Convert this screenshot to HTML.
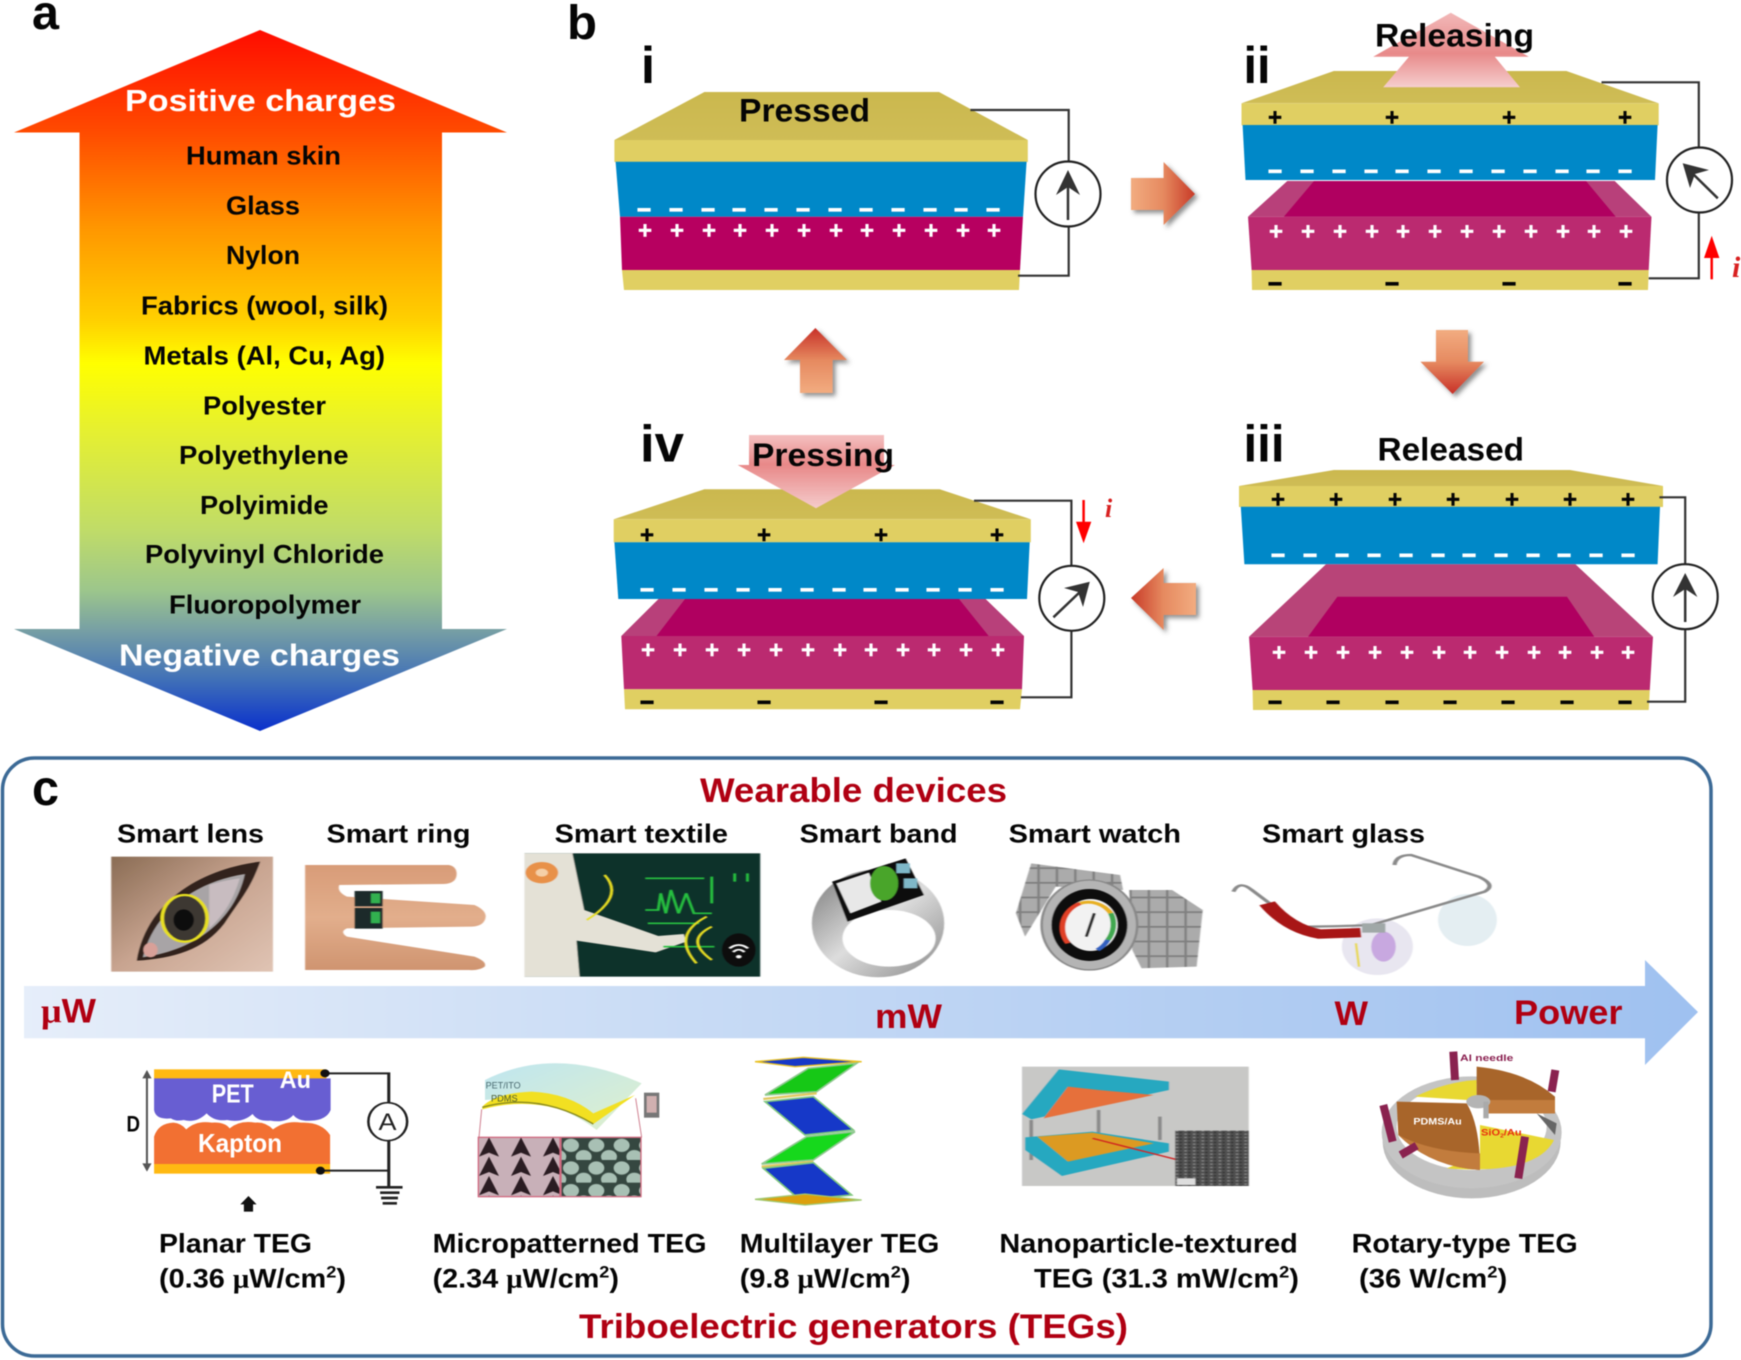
<!DOCTYPE html>
<html><head><meta charset="utf-8"><style>
html,body{margin:0;padding:0;background:#fff}
svg{display:block;filter:blur(.45px)}
text{font-family:"Liberation Sans",sans-serif;font-weight:700}
.k{fill:#050505}.w{fill:#fff}.r{fill:#b00012}
.pw{fill:#fff;font-size:24px;text-anchor:middle;stroke:#fff;stroke-width:.5}
.pk{fill:#050505;font-size:24px;text-anchor:middle;stroke:#050505;stroke-width:.5}
.dw{fill:#fff;font-size:24px;text-anchor:middle;stroke:#fff;stroke-width:1.3}
.dk{fill:#050505;font-size:24px;text-anchor:middle;stroke:#050505;stroke-width:1.3}
</style></head><body>
<svg width="1741" height="1360" viewBox="0 0 1741 1360" xmlns="http://www.w3.org/2000/svg">
<defs>
<linearGradient id="ga" gradientUnits="userSpaceOnUse" x1="0" y1="30" x2="0" y2="731">
<stop offset="0" stop-color="#ff0c00"/><stop offset=".143" stop-color="#ff4a00"/><stop offset=".285" stop-color="#ff9800"/><stop offset=".414" stop-color="#ffd000"/><stop offset=".476" stop-color="#ffff00"/><stop offset=".57" stop-color="#e6f030"/><stop offset=".713" stop-color="#c0dc68"/><stop offset=".8" stop-color="#9cc68c"/><stop offset=".855" stop-color="#78a0a4"/><stop offset=".927" stop-color="#4070b8"/><stop offset="1" stop-color="#0a30cc"/></linearGradient>
<linearGradient id="gr" x1="0" x2="1" y1="0" y2="0"><stop offset="0" stop-color="#f2ac80"/><stop offset=".5" stop-color="#e68a60"/><stop offset="1" stop-color="#c83a28"/></linearGradient>
<linearGradient id="gl" x1="1" x2="0" y1="0" y2="0"><stop offset="0" stop-color="#f2ac80"/><stop offset=".5" stop-color="#e68a60"/><stop offset="1" stop-color="#c83a28"/></linearGradient>
<linearGradient id="gd" x1="0" x2="0" y1="0" y2="1"><stop offset="0" stop-color="#f2ac80"/><stop offset=".5" stop-color="#e68a60"/><stop offset="1" stop-color="#c83028"/></linearGradient>
<linearGradient id="gu" x1="0" x2="0" y1="1" y2="0"><stop offset="0" stop-color="#f2ac80"/><stop offset=".5" stop-color="#e68a60"/><stop offset="1" stop-color="#c83028"/></linearGradient>
<linearGradient id="gp1" x1="0" x2="0" y1="0" y2="1"><stop offset="0" stop-color="#f2b8b8"/><stop offset=".55" stop-color="#e88a8a"/><stop offset="1" stop-color="#f6cfcf"/></linearGradient>
<linearGradient id="gp2" x1="0" x2="0" y1="0" y2="1"><stop offset="0" stop-color="#f4c0c0"/><stop offset=".4" stop-color="#e88888"/><stop offset="1" stop-color="#f5cccc"/></linearGradient>
<linearGradient id="gb" x1="0" x2="1" y1="0" y2="0"><stop offset="0" stop-color="#e6eefa"/><stop offset=".4" stop-color="#c8dbf5"/><stop offset="1" stop-color="#9fc1f0"/></linearGradient>
<linearGradient id="gy" x1="0" x2="0" y1="0" y2="1"><stop offset="0" stop-color="#cbb84e"/><stop offset="1" stop-color="#cfbd56"/></linearGradient>
<linearGradient id="gskin" x1="0" x2="1" y1="0" y2="1"><stop offset="0" stop-color="#8a6c54"/><stop offset=".5" stop-color="#c8a490"/><stop offset="1" stop-color="#e0c4b4"/></linearGradient>
<linearGradient id="gband" x1="0" x2="1" y1="0" y2="1"><stop offset="0" stop-color="#777"/><stop offset=".5" stop-color="#ddd"/><stop offset="1" stop-color="#888"/></linearGradient>
<linearGradient id="gsheet" x1="0" x2="1" y1="0" y2="1"><stop offset="0" stop-color="#bfe6f0"/><stop offset="1" stop-color="#dff0cc"/></linearGradient>
<linearGradient id="ghand" x1="0" x2="0" y1="0" y2="1"><stop offset="0" stop-color="#d89c78"/><stop offset=".5" stop-color="#e2ae8c"/><stop offset="1" stop-color="#cf9470"/></linearGradient>
<filter id="sh" x="-30%" y="-30%" width="170%" height="170%"><feDropShadow dx="3" dy="3" stdDeviation="2.5" flood-color="#444" flood-opacity=".6"/></filter>
<filter id="bl" x="-5%" y="-5%" width="110%" height="110%"><feGaussianBlur stdDeviation="1"/></filter>
<pattern id="ptri" patternUnits="userSpaceOnUse" width="96" height="58" x="40" y="262"><rect width="96" height="58" fill="#c8b0b8"/><polygon points="32,0 62,58 32,46 2,58" fill="#2a1a20"/></pattern>
<pattern id="pblob" patternUnits="userSpaceOnUse" width="76" height="68" x="288" y="262"><rect width="76" height="68" fill="#34463f"/><ellipse cx="30" cy="24" rx="24" ry="20" fill="#a8c0b4"/><ellipse cx="68" cy="58" rx="24" ry="20" fill="#a8c0b4"/><ellipse cx="-8" cy="58" rx="24" ry="20" fill="#a8c0b4"/></pattern>
<pattern id="pnoise" patternUnits="userSpaceOnUse" width="14" height="10"><rect width="14" height="10" fill="#505050"/><rect x="2" y="1" width="4" height="3" fill="#999"/><rect x="8" y="6" width="4" height="3" fill="#2a2a2a"/></pattern>
<pattern id="pstrap" patternUnits="userSpaceOnUse" width="30" height="44"><rect width="30" height="44" fill="#ababab"/><rect width="30" height="5" fill="#7c7c7c"/><rect width="4" height="44" fill="#808080"/></pattern>
</defs>
<rect width="1741" height="1360" fill="#fff"/>

<!-- panel a -->
<polygon points="260,30 507,132.5 442,132.5 442,629 507,629 260,731 14,629 79.5,629 79.5,132.5 14,132.5" fill="url(#ga)"/>
<text class="k" x="32" y="29" font-size="48" textLength="27" lengthAdjust="spacingAndGlyphs">a</text>
<text class="w" x="125" y="111" font-size="31" textLength="271" lengthAdjust="spacingAndGlyphs">Positive charges</text>
<g font-size="26" class="k">
<text x="186" y="164.500" textLength="155" lengthAdjust="spacingAndGlyphs">Human skin</text>
<text x="226" y="214.500" textLength="74" lengthAdjust="spacingAndGlyphs">Glass</text>
<text x="226" y="264" textLength="74" lengthAdjust="spacingAndGlyphs">Nylon</text>
<text x="141" y="314.500" textLength="247" lengthAdjust="spacingAndGlyphs">Fabrics (wool, silk)</text>
<text x="143.500" y="364.500" textLength="241.500" lengthAdjust="spacingAndGlyphs">Metals (Al, Cu, Ag)</text>
<text x="203" y="414.500" textLength="123" lengthAdjust="spacingAndGlyphs">Polyester</text>
<text x="179" y="464" textLength="169.500" lengthAdjust="spacingAndGlyphs">Polyethylene</text>
<text x="200" y="514" textLength="128.500" lengthAdjust="spacingAndGlyphs">Polyimide</text>
<text x="145" y="563" textLength="239" lengthAdjust="spacingAndGlyphs">Polyvinyl Chloride</text>
<text x="169" y="613.500" textLength="192" lengthAdjust="spacingAndGlyphs">Fluoropolymer</text>
</g>
<text class="w" x="119" y="665.500" font-size="31" textLength="281" lengthAdjust="spacingAndGlyphs">Negative charges</text>

<!-- panel b -->
<text class="k" x="567" y="39" font-size="48" textLength="30" lengthAdjust="spacingAndGlyphs">b</text>

<!-- i -->
<polygon points="704.400,92 939,92 1027.800,140 614.400,140" fill="url(#gy)"/>
<rect x="614.400" y="140" width="413.400" height="22" fill="#e0cf62"/>
<polygon points="615.600,161.700 1026.600,161.700 1023,216.700 620,216.700" fill="#0088c8"/>
<polygon points="620,216.700 1023,216.700 1020,270 622,270" fill="#b70060"/>
<polygon points="622,270 1020,270 1019,290 624,290" fill="#e0cf62"/>
<path d="M970.400 110H1068.700V161M1068.700 227V275.700H1018" fill="none" stroke="#333" stroke-width="2.200"/>
<circle cx="1068" cy="194" r="32.500" fill="#fff" stroke="#222" stroke-width="2.200"/>
<path d="M1068 220V180" stroke="#333" stroke-width="2.500"/>
<polygon points="1068,170 1056,195 1068,187 1080,195" fill="#333"/>
<text class="k" x="739" y="121.700" font-size="32" textLength="131" lengthAdjust="spacingAndGlyphs">Pressed</text>
<text class="k" x="641" y="83" font-size="52" textLength="14" lengthAdjust="spacingAndGlyphs">i</text>
<text class="dw" y="216.500" x="644 676 708 739 771 803 835 866 898 930 961 993">––––––––––––</text>
<text class="pw" y="238.700" x="645 677 709 740 772 804 836 867 899 931 963 994">++++++++++++</text>

<!-- arrows -->
<polygon points="1131,178 1163.600,178 1163.600,162 1195,194 1163.600,225 1163.600,210 1131,210" fill="url(#gr)" filter="url(#sh)"/>
<polygon points="1436,330 1468,330 1468,361.700 1484,361.700 1452.600,394 1420.400,361.700 1436,361.700" fill="url(#gd)" filter="url(#sh)"/>
<polygon points="1196,583 1163.600,583 1163.600,568 1131,598 1163.600,630 1163.600,615 1196,615" fill="url(#gl)" filter="url(#sh)"/>
<polygon points="815.400,328 847,360 832.600,360 832.600,393 800,393 800,360 784,360" fill="url(#gu)" filter="url(#sh)"/>

<!-- ii -->
<polygon points="1333.800,71 1566.400,71 1658.700,103.300 1241.500,103.300" fill="url(#gy)"/>
<rect x="1241.500" y="103.300" width="417.200" height="22" fill="#e0cf62"/>
<polygon points="1242.600,125 1657.600,125 1655,180 1245.500,180" fill="#0088c8"/>
<polygon points="1287.300,181 1614.700,181 1651.500,216.700 1248,216.700" fill="#b8407a"/>
<polygon points="1314,181 1586,181 1615.800,216.700 1283.800,216.700" fill="#b00060"/>
<polygon points="1248,216.700 1651.500,216.700 1648.700,270 1251.600,270" fill="#bb2a70"/>
<polygon points="1251.600,270 1648.700,270 1648,290 1252,290" fill="#e0cf62"/>
<polygon points="1450.800,12.700 1528.800,56.700 1494.800,56.700 1520,87.300 1383.200,87.300 1409,56.700 1373.200,56.700" fill="url(#gp1)"/>
<path d="M1601.500 82.300H1698.800V148M1698.800 212V278.300H1648.700" fill="none" stroke="#333" stroke-width="2.200"/>
<circle cx="1699.500" cy="180" r="32.500" fill="#fff" stroke="#222" stroke-width="2.200"/>
<path d="M1717.800 198.300L1690 171" stroke="#333" stroke-width="2.500"/>
<polygon points="1682.700,163.300 1709,170 1695,174 1690,188" fill="#333"/>
<path d="M1711.700 279.300V256" stroke="#f00" stroke-width="2.500"/><polygon points="1711.700,235.700 1719.400,258 1704,258" fill="#f00"/>
<text x="1732" y="277" font-size="30" fill="#d82020" style="font-family:'Liberation Serif',serif;font-style:italic">i</text>
<text class="k" x="1375" y="46.700" font-size="32" textLength="159" lengthAdjust="spacingAndGlyphs">Releasing</text>
<text class="k" x="1243.500" y="83" font-size="52" textLength="27" lengthAdjust="spacingAndGlyphs">ii</text>
<text class="pk" y="125.500" x="1275 1392 1509 1625">++++</text>
<text class="dw" y="178" x="1275 1307 1339 1371 1402 1434 1466 1498 1530 1562 1593 1625">––––––––––––</text>
<text class="pw" y="239.700" x="1276 1308 1340 1372 1403 1435 1467 1499 1531 1563 1594 1626">++++++++++++</text>
<text class="dk" y="290.500" x="1275 1392 1509 1625">––––</text>

<!-- iii -->
<polygon points="1333.800,470 1570,470 1663,486 1239,486" fill="url(#gy)"/>
<rect x="1239" y="486" width="424" height="21" fill="#e0cf62"/>
<polygon points="1240.800,506.700 1660,506.700 1657.600,564.300 1244.400,564.300" fill="#0088c8"/>
<polygon points="1326,564.300 1575.400,564.300 1653,636.700 1249,636.700" fill="#b84478"/>
<polygon points="1337.400,596.700 1567,596.700 1594.300,636.700 1308,636.700" fill="#b00060"/>
<polygon points="1249,636.700 1653,636.700 1649.800,690 1252.600,690" fill="#bb2a70"/>
<polygon points="1252.600,690 1649.800,690 1648.700,710 1253,710" fill="#e0cf62"/>
<path d="M1659.400 497.300H1685.200V564M1685.200 629V701.700H1647" fill="none" stroke="#333" stroke-width="2.200"/>
<circle cx="1685.200" cy="596.700" r="32.500" fill="#fff" stroke="#222" stroke-width="2.200"/>
<path d="M1685.200 622V585" stroke="#333" stroke-width="2.500"/>
<polygon points="1685.200,573 1673,597 1685.200,589 1697.400,597" fill="#333"/>
<text class="k" x="1377.500" y="460.700" font-size="32" textLength="146.500" lengthAdjust="spacingAndGlyphs">Released</text>
<text class="k" x="1243.500" y="461.700" font-size="52" textLength="41" lengthAdjust="spacingAndGlyphs">iii</text>
<text class="pk" y="507.300" x="1278 1336 1395 1453 1512 1570 1628">+++++++</text>
<text class="dw" y="562" x="1278 1310 1342 1374 1406 1438 1469 1501 1533 1564 1596 1628">––––––––––––</text>
<text class="pw" y="660.700" x="1279 1311 1343 1375 1407 1439 1470 1502 1534 1565 1597 1628">++++++++++++</text>
<text class="dk" y="709" x="1275 1333 1392 1450 1508 1567 1625">–––––––</text>

<!-- iv -->
<polygon points="704.400,489.300 939.700,489.300 1030.800,519.300 613.700,519.300" fill="url(#gy)"/>
<rect x="613.700" y="519.300" width="417.100" height="23" fill="#e0cf62"/>
<polygon points="614.400,542.300 1029.700,542.300 1027,599 618.300,599" fill="#0088c8"/>
<polygon points="658.500,599 985.600,599 1024,636 621.300,636" fill="#b8407a"/>
<polygon points="685,599 959,599 988.700,636 656.500,636" fill="#b00060"/>
<polygon points="621.300,636 1024,636 1022,689.300 624,689.300" fill="#bb2a70"/>
<polygon points="624,689.300 1022,689.300 1020,709.300 625,709.300" fill="#e0cf62"/>
<polygon points="749,435 884,435 884,465 895,465 816,508.300 737.700,465 749,465" fill="url(#gp2)"/>
<path d="M974 500.700H1071.400V566M1071.400 631V697.300H1020.900" fill="none" stroke="#333" stroke-width="2.200"/>
<circle cx="1071.800" cy="598.300" r="32.500" fill="#fff" stroke="#222" stroke-width="2.200"/>
<path d="M1053.400 617.300L1082 590" stroke="#333" stroke-width="2.500"/>
<polygon points="1089.800,581.700 1083,607 1078,592 1064,588" fill="#333"/>
<path d="M1083.600 500V524" stroke="#f00" stroke-width="2.500"/><polygon points="1083.600,543.300 1091.300,521.700 1076,521.700" fill="#f00"/>
<text x="1105" y="517" font-size="26" fill="#d82020" style="font-family:'Liberation Serif',serif;font-style:italic">i</text>
<text class="k" x="752" y="466" font-size="32" textLength="142" lengthAdjust="spacingAndGlyphs">Pressing</text>
<text class="k" x="640" y="461.700" font-size="52" textLength="44" lengthAdjust="spacingAndGlyphs">iv</text>
<text class="pk" y="543" x="647 764 881 997">++++</text>
<text class="dw" y="596.500" x="647 679 711 743 775 807 839 870 902 933 965 997">––––––––––––</text>
<text class="pw" y="658" x="648 680 712 744 776 808 840 871 903 934 966 998">++++++++++++</text>
<text class="dk" y="709" x="647 764 881 997">––––</text>

<!-- panel c -->
<rect x="2.500" y="758" width="1708.500" height="598" rx="32" ry="32" fill="#fff" stroke="#3c6a96" stroke-width="3.500"/>
<text class="k" x="32" y="805" font-size="50" textLength="27" lengthAdjust="spacingAndGlyphs">c</text>
<text class="r" x="700" y="802" font-size="34" textLength="307" lengthAdjust="spacingAndGlyphs">Wearable devices</text>
<g class="k" font-size="26">
<text x="117" y="842.700" textLength="147" lengthAdjust="spacingAndGlyphs">Smart lens</text>
<text x="326.500" y="842.700" textLength="144" lengthAdjust="spacingAndGlyphs">Smart ring</text>
<text x="554.600" y="842.700" textLength="173.400" lengthAdjust="spacingAndGlyphs">Smart textile</text>
<text x="799.600" y="842.700" textLength="158" lengthAdjust="spacingAndGlyphs">Smart band</text>
<text x="1008.600" y="842.700" textLength="172.400" lengthAdjust="spacingAndGlyphs">Smart watch</text>
<text x="1262" y="842.700" textLength="163" lengthAdjust="spacingAndGlyphs">Smart glass</text>
</g>

<!-- power arrow -->
<polygon points="24,986 1645,986 1645,960 1698,1012 1645,1065 1645,1038.300 24,1038.300" fill="url(#gb)"/>
<text class="r" x="41" y="1022.700" font-size="34" textLength="55" lengthAdjust="spacingAndGlyphs"><tspan style="font-family:'Liberation Serif',serif">μ</tspan>W</text>
<text class="r" x="875" y="1028" font-size="34" textLength="67" lengthAdjust="spacingAndGlyphs">mW</text>
<text class="r" x="1334.500" y="1025" font-size="34" textLength="33.500" lengthAdjust="spacingAndGlyphs">W</text>
<text class="r" x="1514" y="1024" font-size="34" textLength="108.500" lengthAdjust="spacingAndGlyphs">Power</text>

<!-- device pictures, zoom-6 coordinates -->
<g transform="translate(0,750) scale(.5102,.3333)" filter="url(#bl)">
  <rect x="218" y="320" width="317" height="345" fill="url(#gskin)"/>
  <path d="M268 632C285 470 380 360 510 335C490 420 470 450 440 520C400 600 340 625 268 632Z" fill="#33241c"/>
  <path d="M280 622C300 490 380 395 480 372C465 480 405 595 280 622Z" fill="#a8a4a6"/>
  <path d="M410 405C440 390 470 385 470 385C455 460 435 500 410 535Z" fill="#c8bcc0"/>
  <ellipse cx="362" cy="505" rx="42" ry="68" fill="#3c3733"/>
  <ellipse cx="360" cy="510" rx="20" ry="32" fill="#111"/>
  <ellipse cx="362" cy="505" rx="44" ry="70" fill="none" stroke="#e8e020" stroke-width="7"/>
  <ellipse cx="295" cy="600" rx="14" ry="22" fill="#d8a098"/>
  <!-- ring hand -->
  <path d="M598 345H880Q895 350 895 372Q895 400 870 402L665 405Q660 425 680 440L930 465Q952 480 952 500Q950 528 925 530L680 535Q665 545 680 560L930 620Q955 635 950 650Q940 662 920 660H598Z" fill="url(#ghand)"/>
  <rect x="695" y="423" width="55" height="46" fill="#1a2a2a"/><rect x="695" y="474" width="55" height="62" fill="#1a2a2a"/>
  <rect x="727" y="430" width="18" height="30" fill="#30b050"/><rect x="727" y="485" width="18" height="35" fill="#30b050"/>
  <!-- textile -->
  <rect x="1028" y="310" width="462" height="370" fill="#11302c"/>
  <polygon points="1028,310 1122,310 1145,480 1290,558 1340,552 1345,575 1285,607 1130,572 1136,680 1028,680" fill="#e4e1d6"/>
  <circle cx="1062" cy="368" r="32" fill="#e8914a"/><circle cx="1062" cy="368" r="12" fill="#f5d0a8"/>
  <path d="M1265 480H1290L1295 430L1305 490L1315 420L1330 490L1345 430L1360 490H1395M1440 370V395M1465 370V395M1395 380V460M1265 385H1380M1270 520H1370M1300 590H1400" fill="none" stroke="#25c040" stroke-width="5"/>
  <path d="M1185 375Q1225 440 1150 510M1385 500Q1315 555 1365 640M1395 530Q1340 570 1395 630" fill="none" stroke="#e6e020" stroke-width="5"/>
  <ellipse cx="1448" cy="600" rx="33" ry="50" fill="#0a0a0a"/>
  <path d="M1430 595Q1448 575 1466 595M1437 606Q1448 592 1459 606" fill="none" stroke="#fff" stroke-width="5"/><circle cx="1448" cy="620" r="5" fill="#fff"/>
</g>

<!-- zoom-7 coordinates -->
<g transform="translate(780,750) scale(.6127,.3333)" filter="url(#bl)">
  <ellipse cx="160" cy="520" rx="108" ry="162" fill="url(#gband)"/>
  <ellipse cx="178" cy="565" rx="76" ry="85" fill="#fff"/>
  <polygon points="85,395 205,325 235,435 110,515" fill="#111"/>
  <polygon points="92,400 145,368 165,455 115,490" fill="#e8e8e8"/>
  <ellipse cx="170" cy="400" rx="23" ry="52" fill="#4aa52c"/>
  <rect x="190" y="340" width="22" height="30" fill="#7fb8c8"/><rect x="202" y="385" width="22" height="30" fill="#7fb8c8"/>
  <!-- watch -->
  <polygon points="385,490 410,340 555,375 560,420 450,410 400,560" fill="url(#pstrap)"/>
  <polygon points="570,420 640,420 690,480 680,650 590,655 575,600" fill="url(#pstrap)"/>
  <ellipse cx="505" cy="525" rx="78" ry="135" fill="#b4b4b4" stroke="#888" stroke-width="4"/>
  <ellipse cx="505" cy="525" rx="62" ry="108" fill="#0c0c0c"/>
  <ellipse cx="507" cy="525" rx="44" ry="78" fill="#f2f2f2"/>
  <path d="M470 580A45 78 0 0 1 490 460" fill="none" stroke="#e04028" stroke-width="9"/>
  <path d="M490 460A45 78 0 0 1 540 490" fill="none" stroke="#e8b020" stroke-width="9"/>
  <path d="M540 490A45 78 0 0 1 535 570" fill="none" stroke="#40a850" stroke-width="9"/>
  <path d="M535 570A45 78 0 0 1 518 600" fill="none" stroke="#3060c0" stroke-width="9"/>
  <path d="M500 560L513 490" stroke="#222" stroke-width="5"/>
  <!-- glass -->
  <ellipse cx="975" cy="590" rx="58" ry="85" fill="#e8e6f0"/>
  <ellipse cx="985" cy="590" rx="20" ry="45" fill="#c8a8e0"/>
  <path d="M940 580L945 650" stroke="#e8d850" stroke-width="4"/>
  <ellipse cx="1122" cy="510" rx="48" ry="78" fill="#e4eef2"/>
  <path d="M740 425Q750 390 770 420L850 530Q900 530 965 525L1150 425Q1170 405 1140 380L1030 315Q1005 315 1003 345" fill="none" stroke="#8a8a8a" stroke-width="7"/>
  <path d="M795 460Q830 535 880 552L948 548" fill="none" stroke="#a81818" stroke-width="28"/>
  <rect x="950" y="520" width="38" height="28" fill="#a0a8a8"/>
</g>

<!-- planar TEG, zoom-8 coords -->
<g transform="translate(0,1040) scale(.5102,.3333)">
  <rect x="302" y="88" width="338" height="28" fill="#ffb912"/>
  <rect x="302" y="370" width="345" height="31" fill="#ffb912"/>
  <path d="M302 115H648V210Q640 240 610 242Q585 245 575 225Q560 250 530 242Q505 245 495 222Q475 250 445 240Q420 245 405 220Q385 250 360 240Q345 245 335 235Q305 240 302 210Z" fill="#685ed2"/>
  <path d="M302 290Q310 250 340 248Q355 250 365 268Q385 240 415 248Q440 245 450 265Q470 240 500 248Q520 245 535 268Q560 240 590 248Q630 245 647 285V372H302Z" fill="#f27032"/>
  <path d="M288 95V390" stroke="#555" stroke-width="4"/>
  <polygon points="288,90 279,115 297,115" fill="#555"/><polygon points="288,395 279,370 297,370" fill="#555"/>
  <path d="M637 100H762V190M762 300V440M628 392H762" fill="none" stroke="#222" stroke-width="6"/>
  <ellipse cx="637" cy="100" rx="9" ry="12" fill="#111"/><ellipse cx="628" cy="392" rx="9" ry="12" fill="#111"/>
  <ellipse cx="760" cy="245" rx="38" ry="57" fill="#fff" stroke="#222" stroke-width="5"/>
  <path d="M737 442H789M745 458H783M747 474H780M750 490H778" stroke="#222" stroke-width="8"/>
  <polygon points="487,468 503,493 496,493 496,515 478,515 478,493 471,493" fill="#111"/>
</g>
<text class="k" x="126.500" y="1131.700" font-size="22" textLength="13.500" lengthAdjust="spacingAndGlyphs">D</text>
<text class="w" x="211.700" y="1102.300" font-size="26" textLength="42" lengthAdjust="spacingAndGlyphs">PET</text>
<text class="w" x="279.600" y="1088" font-size="24" textLength="31.400" lengthAdjust="spacingAndGlyphs">Au</text>
<text class="w" x="198" y="1152" font-size="26" textLength="84" lengthAdjust="spacingAndGlyphs">Kapton</text>
<text x="378.500" y="1130" font-size="24" textLength="18" lengthAdjust="spacingAndGlyphs" fill="#222" style="font-weight:400">A</text>

<!-- micropatterned -->
<g transform="translate(465,1050) scale(.3333)">
  <g filter="url(#bl)">
  <path d="M60 90Q270 -15 530 100L395 240Q250 130 60 150Z" fill="url(#gsheet)"/>
  <path d="M52 170Q90 130 200 125Q310 130 385 190L510 135L385 222Q230 130 52 178Z" fill="#f2e020"/>
  <path d="M52 172Q220 125 385 222" fill="none" stroke="#8a8a20" stroke-width="4"/>
  <path d="M50 178L42 262M512 145L530 262" stroke="#d08090" stroke-width="3"/>
  <rect x="40" y="262" width="245" height="178" fill="url(#ptri)" stroke="#d06a80" stroke-width="4"/>
  <rect x="288" y="262" width="240" height="178" fill="url(#pblob)" stroke="#d06a80" stroke-width="4"/>
  <rect x="537" y="128" width="46" height="75" fill="#777"/><rect x="545" y="138" width="30" height="50" fill="#d0b0b0"/>
  </g>
  <text x="62" y="115" font-size="28" fill="#4a6a70" textLength="105" lengthAdjust="spacingAndGlyphs" style="font-weight:400">PET/ITO</text>
  <text x="78" y="155" font-size="28" fill="#4a5a30" textLength="80" lengthAdjust="spacingAndGlyphs" style="font-weight:400">PDMS</text>
</g>

<!-- multilayer -->
<g transform="translate(745,1050) scale(.3333)" filter="url(#bl)">
  <polygon points="30,35 175,22 350,35 150,50" fill="#1438c8" stroke="#e8c020" stroke-width="4"/>
  <polygon points="190,55 335,40 215,125 60,135" fill="#12c818" stroke="#90c890" stroke-width="5"/>
  <path d="M55 147L215 130" stroke="#e0c860" stroke-width="7"/>
  <polygon points="60,155 205,140 325,240 180,255" fill="#1438c8" stroke="#80c880" stroke-width="5"/>
  <polygon points="185,260 330,245 205,330 50,342" fill="#12d81c" stroke="#90c890" stroke-width="5"/>
  <path d="M50 350L205 335" stroke="#e0c860" stroke-width="7"/>
  <polygon points="55,355 205,338 320,435 165,450" fill="#1438c8" stroke="#80c880" stroke-width="5"/>
  <polygon points="30,448 180,432 350,450 180,465" fill="#dca010" stroke="#a0c870" stroke-width="4"/>
</g>

<!-- nanoparticle, zoom-9 coords -->
<g transform="translate(780,1040) scale(.6127,.3333)" filter="url(#bl)">
  <rect x="395" y="80" width="370" height="358" fill="#c8c8c6"/>
  <path d="M410 240V360M520 210V320M620 230V300" stroke="#8a8a8a" stroke-width="6"/>
  <polygon points="455,88 635,125 635,150 410,238 395,222" fill="#26a8c0"/>
  <polygon points="430,235 610,165 520,150 470,140" fill="#e6703a"/>
  <polygon points="400,292 510,275 635,310 635,335 460,408 400,330" fill="#26a8c0"/>
  <polygon points="420,290 510,278 610,310 470,365" fill="#dc9a20"/>
  <path d="M510 295L650 360" stroke="#d02020" stroke-width="4"/>
  <rect x="645" y="272" width="120" height="166" fill="url(#pnoise)"/>
  <rect x="648" y="415" width="30" height="20" fill="#ddd"/>
</g>

<!-- rotary -->
<g transform="translate(1370,1045) scale(.3333)">
  <g filter="url(#bl)">
  <ellipse cx="305" cy="290" rx="267" ry="170" fill="#bdbdbd"/>
  <ellipse cx="305" cy="262" rx="270" ry="168" fill="#c4c4c4"/>
  <ellipse cx="305" cy="245" rx="225" ry="130" fill="#fff"/>
  <path d="M135 155Q230 110 320 105V155L290 165Z" fill="#e8d830"/>
  <path d="M330 240L552 285Q500 390 230 370L330 330Z" fill="#e8d830"/>
  <path d="M500 205L560 235L555 270Z" fill="#666"/>
  <path d="M320 65Q470 80 555 155V205L355 205V165L320 150Z" fill="#a8652a"/>
  <path d="M355 165H555V205H355Z" fill="#c27c3c"/>
  <path d="M80 170L290 175Q330 240 330 375Q180 365 85 270Z" fill="#a8652a"/>
  <path d="M85 270Q180 320 330 325V375Q180 365 85 270Z" fill="#c27c3c"/>
  <ellipse cx="325" cy="170" rx="36" ry="20" fill="#b4b4b4"/>
  <rect x="340" y="170" width="16" height="50" fill="#aaa"/>
  <path d="M250 20L255 105M556 75L545 140M40 180L68 290M92 330L140 302M465 275L445 400" fill="none" stroke="#8a2050" stroke-width="24"/>
  </g>
  <text x="270" y="48" font-size="27" fill="#8a2050" textLength="160" lengthAdjust="spacingAndGlyphs">Al needle</text>
  <text x="130" y="238" font-size="27" fill="#fff" textLength="145" lengthAdjust="spacingAndGlyphs">PDMS/Au</text>
  <text x="333" y="272" font-size="27" fill="#e83010" textLength="122" lengthAdjust="spacingAndGlyphs">SiO<tspan font-size="16" dy="5">2</tspan><tspan dy="-5">/Au</tspan></text>
</g>

<!-- TEG labels -->
<g class="k" font-size="27">
<text x="159" y="1252.700" textLength="153" lengthAdjust="spacingAndGlyphs">Planar TEG</text>
<text x="159" y="1287.700" textLength="187" lengthAdjust="spacingAndGlyphs">(0.36 <tspan style="font-family:'Liberation Serif',serif">μ</tspan>W/cm<tspan font-size="17" dy="-10">2</tspan><tspan dy="10">)</tspan></text>
<text x="432.600" y="1252.700" textLength="274" lengthAdjust="spacingAndGlyphs">Micropatterned TEG</text>
<text x="432.600" y="1287.700" textLength="186.400" lengthAdjust="spacingAndGlyphs">(2.34 <tspan style="font-family:'Liberation Serif',serif">μ</tspan>W/cm<tspan font-size="17" dy="-10">2</tspan><tspan dy="10">)</tspan></text>
<text x="739.800" y="1252.700" textLength="199.500" lengthAdjust="spacingAndGlyphs">Multilayer TEG</text>
<text x="739.800" y="1287.700" textLength="170.700" lengthAdjust="spacingAndGlyphs">(9.8 <tspan style="font-family:'Liberation Serif',serif">μ</tspan>W/cm<tspan font-size="17" dy="-10">2</tspan><tspan dy="10">)</tspan></text>
<text x="999.400" y="1252.700" textLength="298.400" lengthAdjust="spacingAndGlyphs">Nanoparticle-textured</text>
<text x="1034" y="1287.700" textLength="265" lengthAdjust="spacingAndGlyphs">TEG (31.3 mW/cm<tspan font-size="17" dy="-10">2</tspan><tspan dy="10">)</tspan></text>
<text x="1351.700" y="1252.700" textLength="226" lengthAdjust="spacingAndGlyphs">Rotary-type TEG</text>
<text x="1359" y="1287.700" textLength="148.300" lengthAdjust="spacingAndGlyphs">(36 W/cm<tspan font-size="17" dy="-10">2</tspan><tspan dy="10">)</tspan></text>
</g>
<text class="r" x="579" y="1338" font-size="34" textLength="549" lengthAdjust="spacingAndGlyphs">Triboelectric generators (TEGs)</text>
</svg>
</body></html>
